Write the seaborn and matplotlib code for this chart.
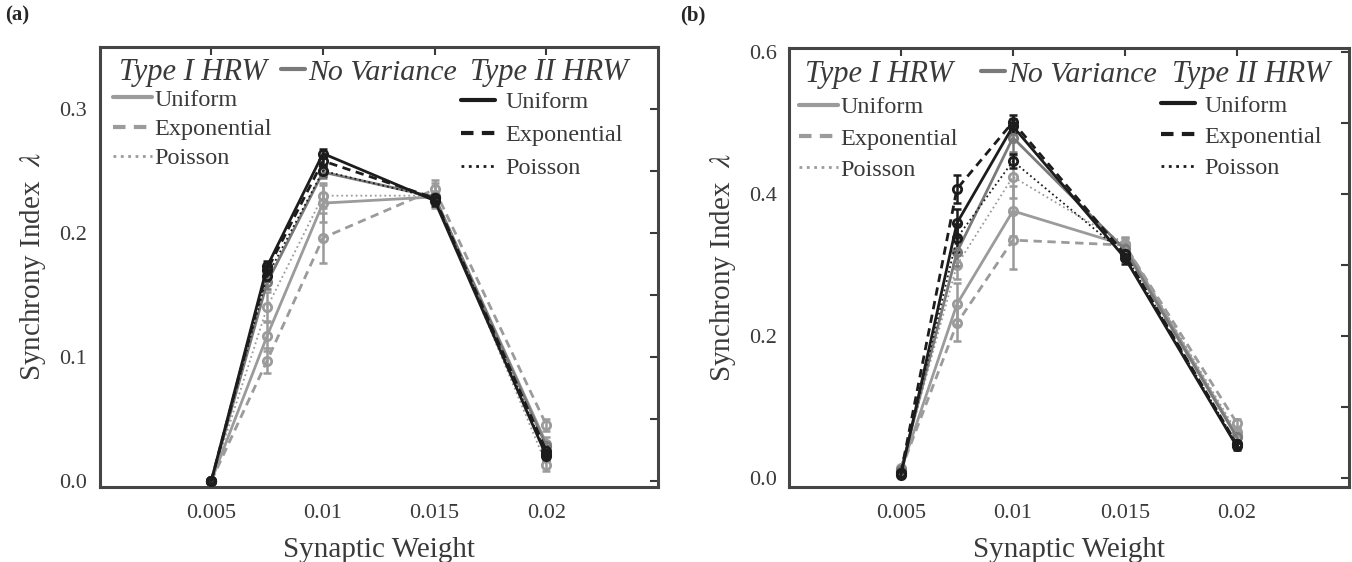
"""Synchrony index vs synaptic weight, two panels (a) and (b)."""
import numpy as np
import matplotlib
matplotlib.use("Agg")
import matplotlib.pyplot as plt
import seaborn as sns
from matplotlib.ticker import MultipleLocator, FixedLocator
from matplotlib.lines import Line2D

weights = [0.005, 0.0075, 0.01, 0.015, 0.02]
xtick_vals = [0.005, 0.01, 0.015, 0.02]
xtick_labels = ["0.005", "0.01", "0.015", "0.02"]

# panel (a)
a_t1_uni = [0.0, 0.117, 0.224, 0.229, 0.030]
a_t1_exp = [0.0, 0.097, 0.196, 0.235, 0.045]
a_t1_poi = [0.0, 0.140, 0.230, 0.230, 0.013]
a_nov = [0.0, 0.160, 0.249, 0.229, 0.028]
a_t2_uni = [0.0, 0.173, 0.264, 0.226, 0.020]
a_t2_exp = [0.0, 0.170, 0.258, 0.228, 0.024]
a_t2_poi = [0.0, 0.165, 0.250, 0.228, 0.022]
a_err_t1_uni = [0.002, 0.012, 0.015, 0.005, 0.005]
a_err_t1_exp = [0.002, 0.010, 0.020, 0.008, 0.005]
a_err_t1_poi = [0.002, 0.012, 0.010, 0.010, 0.005]
a_err_nov = [0.001, 0.005, 0.005, 0.004, 0.003]
a_err_t2 = [0.001, 0.004, 0.004, 0.004, 0.004]

# panel (b)
b_t1_uni = [0.012, 0.245, 0.376, 0.328, 0.060]
b_t1_exp = [0.012, 0.218, 0.335, 0.328, 0.078]
b_t1_poi = [0.015, 0.300, 0.424, 0.330, 0.065]
b_nov = [0.012, 0.318, 0.479, 0.322, 0.058]
b_t2_uni = [0.005, 0.359, 0.495, 0.310, 0.045]
b_t2_exp = [0.008, 0.407, 0.501, 0.315, 0.048]
b_t2_poi = [0.008, 0.338, 0.446, 0.315, 0.048]
b_err_t1_uni = [0.003, 0.030, 0.035, 0.010, 0.006]
b_err_t1_exp = [0.003, 0.025, 0.040, 0.010, 0.006]
b_err_t1_poi = [0.003, 0.020, 0.030, 0.010, 0.006]
b_err_nov = [0.002, 0.020, 0.020, 0.008, 0.005]
b_err_t2 = [0.002, 0.020, 0.010, 0.008, 0.005]

LIGHT = "#9b9b9b"
MID = "#7a7a7a"
DARK = "#1c1c1c"
TXT = "#3a3a3a"

sns.set_style("white")
plt.rcParams["font.family"] = ["Liberation Serif", "DejaVu Serif"]
plt.rcParams["mathtext.fontset"] = "stix"

# style per series: (color, linestyle, linewidth)
STYLE = {
    "t1_uni": (LIGHT, "-", 2.0),
    "t1_exp": (LIGHT, (0, (3, 2)), 2.0),
    "t1_poi": (LIGHT, ":", 1.3),
    "nov": (MID, "-", 2.0),
    "t2_uni": (DARK, "-", 2.0),
    "t2_exp": (DARK, (0, (3, 2)), 2.0),
    "t2_poi": (DARK, ":", 1.3),
}

panels = [
    dict(tag="(a)", ylim=(-0.005, 0.35), minor=0.05,
         yticks=[0.0, 0.1, 0.2, 0.3],
         series={"t1_uni": (a_t1_uni, a_err_t1_uni), "t1_exp": (a_t1_exp, a_err_t1_exp),
                 "t1_poi": (a_t1_poi, a_err_t1_poi), "nov": (a_nov, a_err_nov),
                 "t2_uni": (a_t2_uni, a_err_t2), "t2_exp": (a_t2_exp, a_err_t2),
                 "t2_poi": (a_t2_poi, a_err_t2)},
         pos=[0.0737, 0.1335, 0.413, 0.783],
         hdr1=0.035, hdr2=0.664, hdr_y=0.942, nov_x=0.325,
         lc=(0.024, 0.905), lsp=0.3, rc=(0.648, 0.899), rsp=0.45),
    dict(tag="(b)", ylim=(-0.012, 0.605), minor=0.1,
         yticks=[0.0, 0.2, 0.4, 0.6],
         series={"t1_uni": (b_t1_uni, b_err_t1_uni), "t1_exp": (b_t1_exp, b_err_t1_exp),
                 "t1_poi": (b_t1_poi, b_err_t1_poi), "nov": (b_nov, b_err_nov),
                 "t2_uni": (b_t2_uni, b_err_t2), "t2_exp": (b_t2_exp, b_err_t2),
                 "t2_poi": (b_t2_poi, b_err_t2)},
         pos=[0.5836, 0.1335, 0.414, 0.781],
         hdr1=0.029, hdr2=0.684, hdr_y=0.94, nov_x=0.343,
         lc=(0.018, 0.89), lsp=0.38, rc=(0.664, 0.894), rsp=0.38),
]

fig = plt.figure(figsize=(13.52, 5.62), dpi=100)

for p in panels:
    ax = fig.add_axes(p["pos"])
    for key, (vals, err) in p["series"].items():
        col, ls, lw = STYLE[key]
        ax.errorbar(weights, vals, yerr=err, fmt="none", ecolor=col, elinewidth=1.8,
                    capsize=3, capthick=1.8, zorder=2)
        sns.lineplot(x=weights, y=vals, ax=ax, color=col, linestyle=ls, linewidth=lw,
                     marker="o", markersize=6, markerfacecolor="none",
                     markeredgecolor=col, markeredgewidth=2.0, zorder=3)

    ax.set_xlim(0.0, 0.025)
    ax.set_ylim(*p["ylim"])
    ax.xaxis.set_major_locator(FixedLocator(xtick_vals))
    ax.set_xticklabels(xtick_labels)
    ax.yaxis.set_major_locator(FixedLocator(p["yticks"]))
    ax.set_yticklabels([f"{v:.1f}" for v in p["yticks"]])
    ax.yaxis.set_minor_locator(MultipleLocator(p["minor"]))
    ax.tick_params(which="both", direction="in", top=True, right=True,
                   length=6, width=1.5, color="#3a3a3a", labelsize=16, labelcolor=TXT)
    ax.tick_params(axis="x", pad=12)
    ax.tick_params(axis="y", pad=9)
    for s in ax.spines.values():
        s.set_color("#454545")
        s.set_linewidth(2.2)
    ax.set_xlabel("Synaptic Weight", fontsize=21, color=TXT, labelpad=10)
    ax.set_ylabel("Synchrony Index  $\\lambda$", fontsize=21, color=TXT, labelpad=8)

    # legend headers
    ax.text(p["hdr1"], p["hdr_y"], "Type I HRW", transform=ax.transAxes, fontsize=22,
            style="italic", color=TXT, va="center", ha="left")
    ax.text(p["hdr2"], p["hdr_y"], "Type II HRW", transform=ax.transAxes, fontsize=22,
            style="italic", color=TXT, va="center", ha="left")

    def handle(key):
        col, ls, lw = STYLE[key]
        return Line2D([], [], color=col, linestyle=ls, linewidth=3.0 if ls != ":" else 2.0)

    leg_nov = ax.legend([handle("nov")], ["No Variance"], loc="center left",
                        bbox_to_anchor=(p["nov_x"], p["hdr_y"]), frameon=False,
                        borderpad=0, borderaxespad=0, handlelength=0.8, handletextpad=0.12,
                        prop={"family": ["Liberation Serif"], "style": "italic", "size": 21.5},
                        labelcolor=TXT)
    ax.add_artist(leg_nov)
    leg_l = ax.legend([handle("t1_uni"), handle("t1_exp"), handle("t1_poi")],
                      ["Uniform", "Exponential", "Poisson"], loc="upper left",
                      bbox_to_anchor=p["lc"], frameon=False, borderpad=0, borderaxespad=0,
                      handlelength=1.6, handletextpad=0.1, labelspacing=p["lsp"],
                      fontsize=17.5, labelcolor=TXT)
    ax.add_artist(leg_l)
    ax.legend([handle("t2_uni"), handle("t2_exp"), handle("t2_poi")],
              ["Uniform", "Exponential", "Poisson"], loc="upper left",
              bbox_to_anchor=p["rc"], frameon=False, borderpad=0, borderaxespad=0,
              handlelength=1.4, handletextpad=0.4, labelspacing=p["rsp"],
              fontsize=17.5, labelcolor=TXT)

fig.text(0.004, 0.972, "(a)", fontsize=15, fontweight="bold", va="center", ha="left")
fig.text(0.503, 0.972, "(b)", fontsize=15, fontweight="bold", va="center", ha="left")

fig.savefig("out.png", dpi=100)
